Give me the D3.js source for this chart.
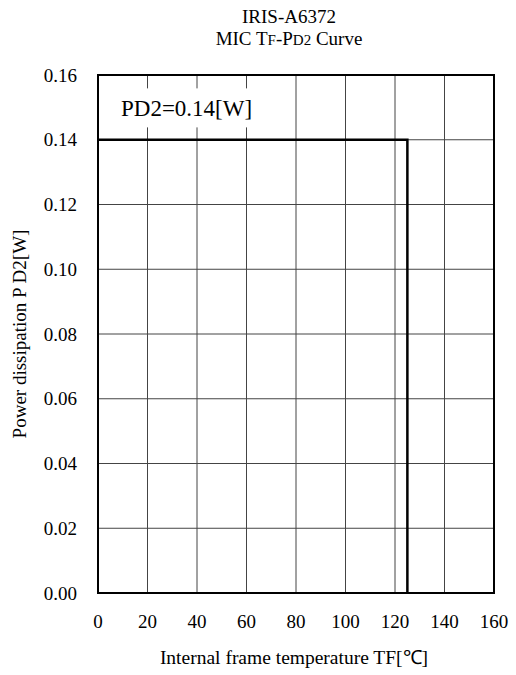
<!DOCTYPE html>
<html>
<head>
<meta charset="utf-8">
<script src="https://cdn.jsdelivr.net/npm/d3@7"></script>
<style>
  body { margin: 0; background: #fff; }
  svg text { font-family: "Liberation Serif", "Times New Roman", serif; fill: #000; }
</style>
</head>
<body>
<div id="chart"></div>
<script>
// curve points (temperature in C, power in W)
const tempC = [0, 125, 125];
const powerW = [0.14, 0.14, 0];

const xTicks = [0, 20, 40, 60, 80, 100, 120, 140, 160];
const yTicks = [0, 0.02, 0.04, 0.06, 0.08, 0.10, 0.12, 0.14, 0.16];

const width = 516;
const height = 675;
const margin = { top: 75, right: 22, bottom: 82, left: 98 };
const fs = 19;

const svg = d3.select('#chart')
  .append('svg')
  .attr('width', width)
  .attr('height', height);

const xScale = d3.scaleLinear()
  .domain([0, 160])
  .range([margin.left, width - margin.right]);

const yScale = d3.scaleLinear()
  .domain([0, 0.16])
  .range([height - margin.bottom, margin.top]);

// grid
svg.append('g')
  .selectAll('line')
  .data(xTicks.slice(1, -1))
  .enter()
  .append('line')
  .attr('x1', d => xScale(d))
  .attr('x2', d => xScale(d))
  .attr('y1', yScale(0.16))
  .attr('y2', yScale(0))
  .attr('stroke', '#444')
  .attr('stroke-width', 1);

svg.append('g')
  .selectAll('line')
  .data(yTicks.slice(1, -1))
  .enter()
  .append('line')
  .attr('x1', xScale(0))
  .attr('x2', xScale(160))
  .attr('y1', d => yScale(d))
  .attr('y2', d => yScale(d))
  .attr('stroke', '#444')
  .attr('stroke-width', 1);

// tick labels
svg.append('g')
  .selectAll('text')
  .data(xTicks)
  .enter()
  .append('text')
  .attr('x', d => xScale(d))
  .attr('y', yScale(0) + 35)
  .attr('text-anchor', 'middle')
  .attr('font-size', fs)
  .text(d3.format('d'));

svg.append('g')
  .selectAll('text')
  .data(yTicks)
  .enter()
  .append('text')
  .attr('x', xScale(0) - 21)
  .attr('y', d => yScale(d) + 6.5)
  .attr('text-anchor', 'end')
  .attr('font-size', fs)
  .text(d3.format('.2f'));

// label box
const lx = xScale(0) + 23;
const ly = yScale(0.15);
svg.append('rect')
  .attr('x', lx - 6)
  .attr('y', ly - 19)
  .attr('width', 146)
  .attr('height', 39)
  .attr('fill', '#fff');
svg.append('text')
  .attr('x', lx)
  .attr('y', ly + 9)
  .attr('font-size', 23)
  .text('PD2=0.14[W]');

// curve
const line = d3.line()
  .x((d, i) => xScale(tempC[i]))
  .y(d => yScale(d));

svg.append('path')
  .datum(powerW)
  .attr('d', line)
  .attr('fill', 'none')
  .attr('stroke', '#000')
  .attr('stroke-width', 2.5);

// frame
svg.append('rect')
  .attr('x', xScale(0))
  .attr('y', yScale(0.16))
  .attr('width', xScale(160) - xScale(0))
  .attr('height', yScale(0) - yScale(0.16))
  .attr('fill', 'none')
  .attr('stroke', '#000')
  .attr('stroke-width', 2);

// titles
svg.append('text')
  .attr('x', 289)
  .attr('y', 23)
  .attr('text-anchor', 'middle')
  .attr('font-size', fs)
  .text('IRIS-A6372');

const t2 = svg.append('text')
  .attr('x', 289)
  .attr('y', 45)
  .attr('text-anchor', 'middle')
  .attr('font-size', fs);
t2.append('tspan').text('MIC T');
t2.append('tspan').attr('font-size', 15).text('F');
t2.append('tspan').text('-P');
t2.append('tspan').attr('font-size', 15).text('D2');
t2.append('tspan').text(' Curve');

svg.append('text')
  .attr('x', 294)
  .attr('y', 664)
  .attr('text-anchor', 'middle')
  .attr('font-size', 19.5)
  .text('Internal frame temperature TF[℃]');

svg.append('text')
  .attr('transform', 'translate(26, 334) rotate(-90)')
  .attr('text-anchor', 'middle')
  .attr('font-size', fs)
  .text('Power dissipation P D2[W]');
</script>
</body>
</html>
